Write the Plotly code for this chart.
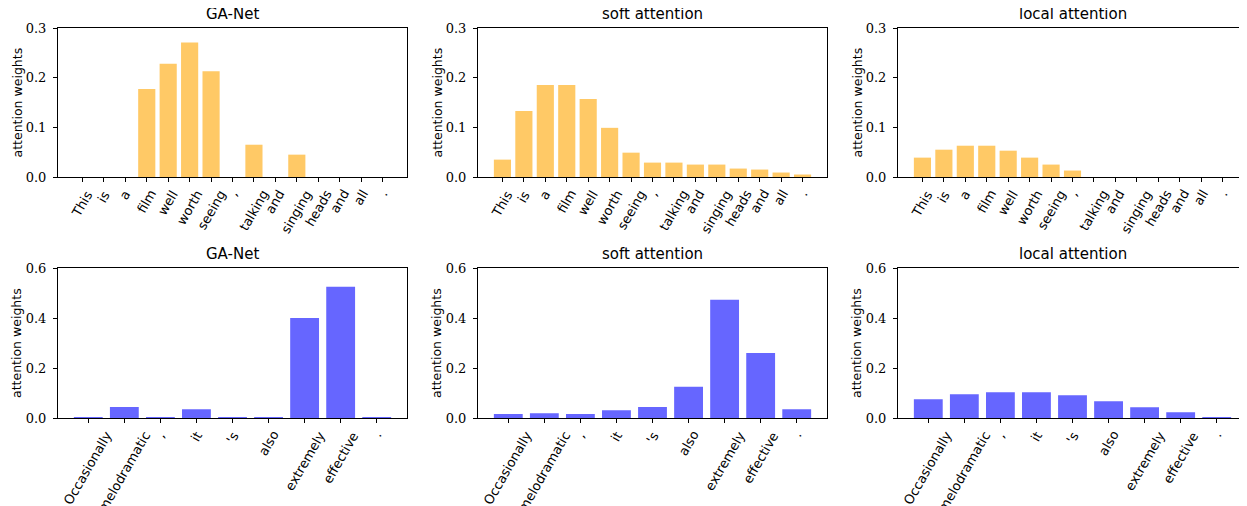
import plotly.graph_objects as go

# ---- data ----
words_top = ["This", "is", "a", "film", "well", "worth", "seeing", ",", "talking",
             "and", "singing", "heads", "and", "all", "."]
ganet_top = [0, 0, 0, 0.177, 0.228, 0.271, 0.213, 0, 0.065, 0, 0.045, 0, 0, 0, 0]
soft_top = [0.035, 0.133, 0.185, 0.185, 0.157, 0.099, 0.049, 0.029, 0.029,
            0.025, 0.025, 0.017, 0.015, 0.009, 0.005]
local_top = [0.039, 0.055, 0.063, 0.063, 0.053, 0.039, 0.025, 0.013, 0, 0, 0, 0, 0, 0, 0]

words_bot = ["Occasionally", "melodramatic", ",", "it", "'s", "also", "extremely",
             "effective", "."]
ganet_bot = [0.002, 0.044, 0.002, 0.035, 0.002, 0.002, 0.400, 0.525, 0.002]
soft_bot = [0.016, 0.019, 0.016, 0.031, 0.044, 0.125, 0.473, 0.260, 0.035]
local_bot = [0.075, 0.095, 0.103, 0.103, 0.091, 0.067, 0.043, 0.023, 0.002]

titles = ["GA-Net", "soft attention", "local attention"]
y_ticks_top = [0.0, 0.1, 0.2, 0.3]
y_ticks_bot = [0.0, 0.2, 0.4, 0.6]

ORANGE = "#FFC966"
BLUE = "#6666FF"

# page body has an 8px margin; positions below are screen pixels
OFF = 8
SW, SH = 1247, 506
W, H = SW - OFF, SH - OFF
col_px = [(58, 407), (478, 827), (898, 1247)]
row_px = [(28, 177), (268, 418)]  # top, bottom in screen pixels


def fx(s):
    return (s - OFF) / W


def fy(s):
    return (H - (s - OFF)) / H


SERIF = "DejaVu Serif"
SANS = "DejaVu Sans"

fig = go.Figure()
panels = [
    (0, 0, words_top, ganet_top, ORANGE, y_ticks_top),
    (0, 1, words_top, soft_top, ORANGE, y_ticks_top),
    (0, 2, words_top, local_top, ORANGE, y_ticks_top),
    (1, 0, words_bot, ganet_bot, BLUE, y_ticks_bot),
    (1, 1, words_bot, soft_bot, BLUE, y_ticks_bot),
    (1, 2, words_bot, local_bot, BLUE, y_ticks_bot),
]

annotations = []
for k, (r, c, words, vals, color, yt) in enumerate(panels):
    idx = k + 1
    xa = "x" if idx == 1 else f"x{idx}"
    ya = "y" if idx == 1 else f"y{idx}"
    xs = list(range(len(words)))
    fig.add_trace(go.Bar(x=xs, y=vals, width=0.8, marker=dict(color=color, line=dict(width=0)),
                         xaxis=xa, yaxis=ya, showlegend=False))
    x0, x1 = col_px[c]
    t, b = row_px[r]
    n = len(words)
    span = (n - 1) + 0.8
    pad = 0.05 * span
    xr = [-0.4 - pad, n - 1 + 0.4 + pad]
    axis_common = dict(showline=True, linecolor="black", linewidth=1, mirror=True,
                       ticks="outside", ticklen=4, tickcolor="black", tickwidth=1,
                       showgrid=False, zeroline=False, automargin=False)
    fig.layout[("xaxis" if idx == 1 else f"xaxis{idx}")] = dict(
        domain=[fx(x0), min(fx(x1), 1.0)], anchor=ya, range=xr,
        tickmode="array", tickvals=xs, showticklabels=False, **axis_common)
    fig.layout[("yaxis" if idx == 1 else f"yaxis{idx}")] = dict(
        domain=[fy(b), fy(t)], anchor=xa, range=[0, yt[-1]],
        tickmode="array", tickvals=yt, tickformat=".1f", ticklabelstandoff=4,
        tickfont=dict(family=SERIF, size=13, color="black"), **axis_common)
    # rotated category labels, centred under each tick (matplotlib style)
    for xi, w in zip(xs, words):
        annotations.append(dict(text=w, x=xi, xref=xa, y=fy(b + 8), yref="paper",
                                xanchor="center", yanchor="top", textangle=-60,
                                showarrow=False,
                                font=dict(family=SANS, size=13, color="black")))
    annotations.append(dict(text=titles[c], x=fx((x0 + x1) / 2), y=fy(t - 3),
                            xref="paper", yref="paper", xanchor="center", yanchor="bottom",
                            showarrow=False, font=dict(family=SANS, size=15, color="black")))
    annotations.append(dict(text="attention weights", x=fx(x0 - 41), y=fy((t + b) / 2),
                            xref="paper", yref="paper", xanchor="center", yanchor="middle",
                            textangle=-90, showarrow=False,
                            font=dict(family=SANS, size=12.5, color="black")))

fig.update_layout(width=W, height=H, margin=dict(l=0, r=0, t=0, b=0),
                  plot_bgcolor="white", paper_bgcolor="white", annotations=annotations,
                  bargap=0.2)
fig.write_html("out.html")
